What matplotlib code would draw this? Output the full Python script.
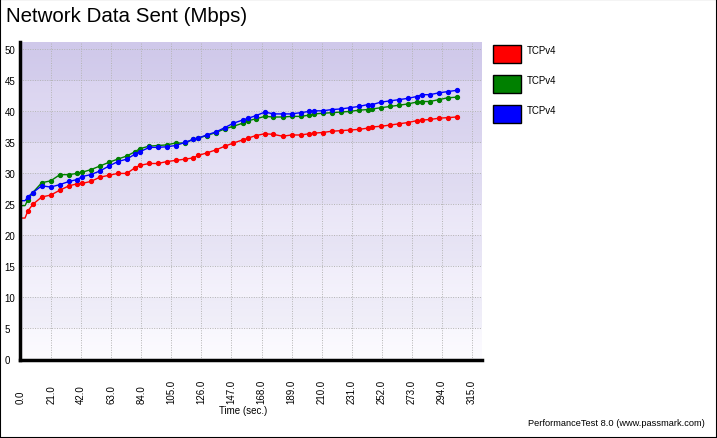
import numpy as np
import matplotlib
matplotlib.use('Agg')
import matplotlib.pyplot as plt
from matplotlib.patches import Rectangle

plt.rcParams['font.family'] = ['Liberation Sans', 'DejaVu Sans']

# sample times (sec.)
t = [0, 2.8, 4.7, 8.2, 14.5, 20.7, 27.2, 33.5, 38.9, 42.8, 48.7, 55.2, 61.5,
     67.5, 73.8, 79.6, 83.1, 89.6, 95.5, 101.7, 108.0, 114.5, 120.3, 123.8,
     129.7, 136.2, 142.5, 148.3, 154.8, 158.7, 163.9, 170.4, 176.2, 182.7,
     189.0, 195.3, 201.3, 204.7, 210.7, 217.0, 223.5, 229.7, 236.0, 242.1,
     245.3, 251.4, 257.7, 264.0, 270.0, 276.3, 279.8, 285.6, 291.9, 298.0,
     304.3]

red = [22.8, 22.8, 23.9, 25.0, 26.2, 26.5, 27.3, 28.0, 28.3, 28.4, 28.7, 29.4,
       29.7, 30.0, 30.0, 30.9, 31.3, 31.6, 31.6, 31.9, 32.1, 32.3, 32.5, 32.9,
       33.3, 33.8, 34.4, 34.9, 35.4, 35.7, 36.1, 36.4, 36.3, 36.0, 36.2, 36.2,
       36.4, 36.5, 36.6, 36.8, 36.9, 37.0, 37.1, 37.3, 37.5, 37.6, 37.8, 38.0,
       38.2, 38.5, 38.6, 38.7, 38.9, 39.0, 39.1]

green = [24.8, 24.8, 25.7, 26.9, 28.5, 28.8, 29.8, 29.8, 30.0, 30.2, 30.6,
         31.2, 31.8, 32.3, 32.8, 33.5, 34.0, 34.4, 34.5, 34.6, 34.9, 34.9,
         35.5, 35.7, 36.1, 36.6, 37.2, 37.6, 38.1, 38.5, 38.8, 39.2, 39.1,
         39.1, 39.2, 39.2, 39.4, 39.6, 39.7, 39.8, 39.9, 40.0, 40.2, 40.3,
         40.4, 40.6, 40.8, 41.0, 41.2, 41.5, 41.6, 41.6, 41.9, 42.2, 42.3]

blue = [25.6, 25.6, 26.2, 26.9, 28.0, 27.8, 28.2, 28.7, 29.0, 29.5, 29.8, 30.4,
        31.2, 31.9, 32.3, 33.1, 33.5, 34.2, 34.2, 34.3, 34.5, 35.0, 35.5, 35.7,
        36.2, 36.7, 37.4, 38.1, 38.6, 38.9, 39.3, 39.9, 39.6, 39.6, 39.6, 39.8,
        40.0, 40.1, 40.1, 40.3, 40.4, 40.6, 40.8, 41.1, 41.1, 41.5, 41.7, 41.9,
        42.1, 42.4, 42.7, 42.7, 43.0, 43.2, 43.4]

series_names = ['TCPv4', 'TCPv4', 'TCPv4']
series_colors = ['#ff0000', '#008000', '#0000ff']
xticks = np.arange(0, 316, 21)
yticks = np.arange(0, 51, 5)

W, H = 717, 439
fig = plt.figure(figsize=(W / 100, H / 100), dpi=100)
fig.patch.set_facecolor('white')
fig.patches.append(Rectangle((0, 0), 1, 1, transform=fig.transFigure,
                             fill=False, edgecolor='black', lw=1.5))

ax = fig.add_axes([20 / W, 1 - 361 / H, 462 / W, 318 / H])
xmin, xmax = -0.7, 322
ymin, ymax = -0.1, 51.2
ax.set_xlim(xmin, xmax)
ax.set_ylim(ymin, ymax)

# banded gradient background
yy = np.linspace(ymax, ymin, 400)
top = np.array([214, 207, 238]) / 255
bot = np.array([252, 251, 255]) / 255
img = np.zeros((400, 1, 3))
for i, v in enumerate(yy):
    f = max(v, 0) / ymax
    c = bot * (1 - f) + top * f
    if v >= 45 or int(v // 5) % 2 == 1:
        c = c - np.array([7, 7, 4]) / 255
    img[i, 0] = c
ax.imshow(img, extent=[xmin, xmax, ymin, ymax], aspect='auto', zorder=0)

ax.set_xticks(xticks)
ax.set_yticks(yticks)
ax.grid(True, color='#b4b4b4', linestyle=(0, (1, 1.5)), lw=0.7)
ax.set_axisbelow(False)

for y, c in zip([red, green, blue], series_colors):
    ax.plot(t, y, color=c, lw=1.0, marker='o', ms=2.8, markevery=range(2, len(t)),
            zorder=3)

for s in ['top', 'right']:
    ax.spines[s].set_visible(False)
for s in ['left', 'bottom']:
    ax.spines[s].set_linewidth(2.5)
    ax.spines[s].set_zorder(4)

ax.set_xticklabels(['%.1f' % v for v in xticks], rotation=90, fontsize=7)
for lab in ax.get_xticklabels():
    lab.set_va('bottom')
ax.tick_params(axis='x', length=0, pad=31)
ax.set_yticklabels(['%d' % v for v in yticks], fontsize=7)
for lab in ax.get_yticklabels():
    lab.set_ha('left')
ax.tick_params(axis='y', length=0, pad=11)

fig.text(243 / W, 1 - 411 / H, 'Time (sec.)', ha='center', va='center', fontsize=7)
fig.text(6 / W, 1 - 17 / H, 'Network Data Sent (Mbps)', ha='left', va='center',
         fontsize=14.8)
fig.text(705 / W, 1 - 424 / H, 'PerformanceTest 8.0 (www.passmark.com)',
         ha='right', va='center', fontsize=6.7)

# legend boxes
for i, (name, c) in enumerate(zip(series_names, series_colors)):
    y0 = 46 + i * 30
    fig.patches.append(Rectangle((493 / W, 1 - (y0 + 18) / H), 28 / W, 18 / H,
                                 transform=fig.transFigure, facecolor=c,
                                 edgecolor='black', lw=1))
    fig.text(527 / W, 1 - (y0 + 5) / H, name, ha='left', va='center', fontsize=7)

fig.savefig('out.png', dpi=100)
